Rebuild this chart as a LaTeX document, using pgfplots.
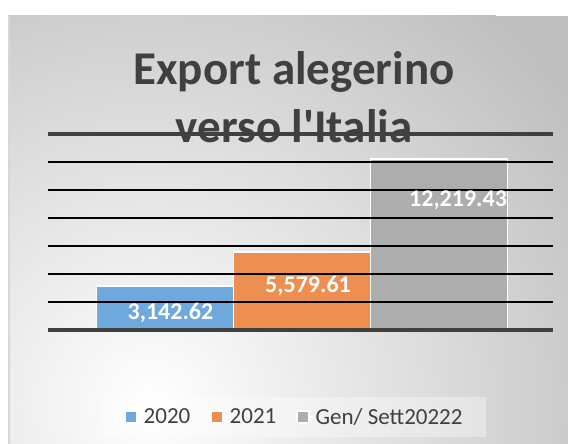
\documentclass[border=0pt]{standalone}
\usepackage{pgfplots}
\pgfplotsset{compat=1.18}
\usepackage{fontspec}
\setmainfont{Carlito}
\newfontfamily\titlefont{Carlito}[Ligatures=TeXOff]
\definecolor{bg}{RGB}{191,191,191}
\definecolor{dk}{RGB}{64,64,64}
\definecolor{cblue}{RGB}{111,168,220}
\definecolor{corange}{RGB}{237,143,80}
\definecolor{cgray}{RGB}{173,173,173}
\begin{document}
\begin{tikzpicture}[x=1pt,y=1pt]
\path[use as bounding box] (0,0) rectangle (568,444);
\fill[white] (0,0) rectangle (568,444);
\begin{scope}
\clip (8,0) rectangle (568,428);
\fill[bg] (8,0) rectangle (568,428);
\shade[inner color=white, outer color=bg] (150,40) circle (520);
\end{scope}
\draw[color={rgb,255:red,215;green,215;blue,215}, line width=1.5pt] (9,0) -- (9,428);
\node[anchor=base, font=\titlefont\bfseries\fontsize{47}{58}\selectfont, text=dk] at (294,359) {Export alegerino};
\node[anchor=base, font=\titlefont\bfseries\fontsize{47}{58}\selectfont, text=dk] at (294,301) {verso l'Italia};
\begin{axis}[
  at={(48pt,114pt)}, anchor=south west,
  scale only axis, width=505pt, height=196pt,
  xmin=-0.854, xmax=2.832, ymin=0, ymax=14000,
  scaled y ticks=false,
  axis on top,
  axis line style={draw=none},
  xtick=\empty,
  ytick={2000,4000,6000,8000,10000,12000},
  yticklabels={},
  major tick length=0pt,
  ymajorgrids,
  grid style={black, line width=1.3pt},
  extra y ticks={0,14000},
  extra y tick labels={},
  extra y tick style={grid style={draw=dk, line width=4pt}},
  ybar, bar width=137pt, bar shift=0pt,
  legend columns=3,
  legend image code/.code={\draw[#1, draw=white, line width=1.2pt, fill opacity=1, draw opacity=1] (0pt,-6pt) rectangle (12pt,6pt); \path (12pt,0pt) -- (16pt,0pt);},
  legend style={at={(axis description cs:0.488,-0.4439)}, anchor=center,
    draw=none, fill=white, fill opacity=0.35, text opacity=1,
    font=\fontsize{23}{27}\selectfont, text=dk,
    inner xsep=21pt, inner ysep=9pt,
    /tikz/every even column/.append style={column sep=18pt}},
]
\addplot[fill=cblue, draw=white, line width=1.5pt] coordinates {(0,3142.62)};
\addlegendentry{2020}
\addplot[fill=corange, draw=white, line width=1.5pt] coordinates {(1,5579.61)};
\addlegendentry{2021}
\addplot[fill=cgray, draw=white, line width=1.5pt] coordinates {(2,12219.43)};
\addlegendentry{Gen/ Sett20222}
\coordinate (l1) at (axis cs:0.04,1236);
\coordinate (l2) at (axis cs:1.044,3143);
\coordinate (l3) at (axis cs:2.139,9286);
\end{axis}
\node[font=\bfseries\fontsize{24}{24}\selectfont, text=white] at (l1) {3,142.62};
\node[font=\bfseries\fontsize{24}{24}\selectfont, text=white] at (l2) {5,579.61};
\node[font=\bfseries\fontsize{24}{24}\selectfont, text=white] at (l3) {12,219.43};
\end{tikzpicture}
\end{document}
